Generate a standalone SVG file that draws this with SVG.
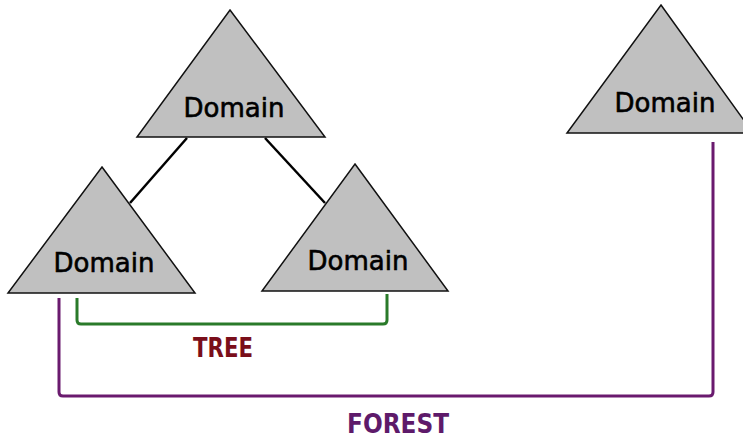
<svg xmlns="http://www.w3.org/2000/svg" width="743" height="440" viewBox="0 0 743 440">
<style>
.tri{fill:#c0c0c0;stroke:#111;stroke-width:1.5;stroke-linejoin:miter}
.lbl{font-family:"DejaVu Sans",sans-serif;font-size:26px;fill:#000;stroke:#000;stroke-width:0.6;text-anchor:middle}
.cap{font-family:"DejaVu Sans Condensed","DejaVu Sans",sans-serif;font-weight:bold;font-size:27px;text-anchor:middle}
.link{stroke:#000;stroke-width:2.5;fill:none}
.tree{stroke:#2a7a2a;stroke-width:3;fill:none;stroke-linejoin:round}
.forest{stroke:#6a1a6e;stroke-width:3;fill:none;stroke-linejoin:round}
</style>
<rect width="743" height="440" fill="#fff"/>
<g id="connectors">
<line class="link" x1="187" y1="138" x2="130" y2="203"/>
<line class="link" x1="265" y1="138" x2="325" y2="203"/>
<path class="tree" d="M77,298 V320 Q77,324 81,324 H383 Q387,324 387,320 V294"/>
<path class="forest" d="M59,298 V392 Q59,396 63,396 H709 Q713,396 713,392 V142"/>
</g>
<g id="domain-top">
<polygon class="tri" points="230,10 325,137 137,137"/>
<text class="lbl" x="234" y="117">Domain</text>
</g>
<g id="domain-left">
<polygon class="tri" points="102,167 195,293 8,293"/>
<text class="lbl" x="104" y="272">Domain</text>
</g>
<g id="domain-right">
<polygon class="tri" points="355,164 448,291 262,291"/>
<text class="lbl" x="358" y="270">Domain</text>
</g>
<g id="domain-far">
<polygon class="tri" points="661,5 753,133 567,133"/>
<text class="lbl" x="665" y="112">Domain</text>
</g>
<g id="label-tree">
<text class="cap" x="223" y="357" fill="#7a0e1a" textLength="60" lengthAdjust="spacingAndGlyphs">TREE</text>
</g>
<g id="label-forest">
<text class="cap" x="398" y="433" fill="#5e1a6a" textLength="102" lengthAdjust="spacingAndGlyphs">FOREST</text>
</g>
</svg>
